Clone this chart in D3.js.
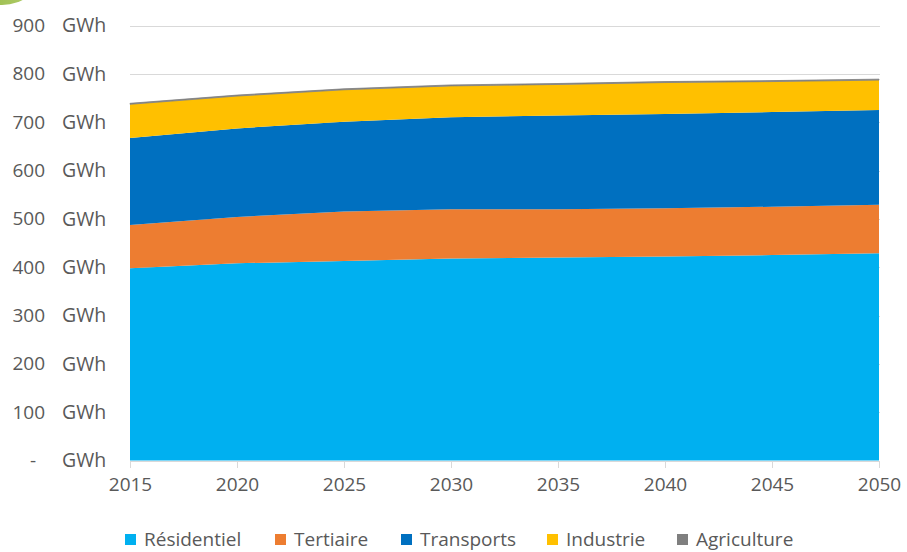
<!DOCTYPE html>
<html>
<head>
<meta charset="utf-8">
<script src="https://cdn.jsdelivr.net/npm/d3@7"></script>
<style>
  html, body { margin: 0; padding: 0; background: #fff; }
  svg { display: block; font-family: "Open Sans", "DejaVu Sans", sans-serif; }
</style>
</head>
<body>
<svg id="chart" width="907" height="552"></svg>
<script>
// Consommation d'énergie par secteur, 2015-2050 (GWh)
const years = [2015, 2020, 2025, 2030, 2035, 2040, 2045, 2050];
const seriesNames = ["Résidentiel", "Tertiaire", "Transports", "Industrie", "Agriculture"];
const residentiel = [398, 408, 413, 418, 420, 422, 425, 429];
const tertiaire   = [89, 96, 102, 102, 100, 100, 100, 100];
const transports  = [180, 183, 186, 190, 194, 195, 196, 196];
const industrie   = [70, 67, 66, 65, 64, 65, 63, 62];
const agriculture = [2, 2, 2, 2, 2, 2, 2, 2];
const yTicks = [0, 100, 200, 300, 400, 500, 600, 700, 800, 900];
const xTicks = [2015, 2020, 2025, 2030, 2035, 2040, 2045, 2050];
const colors = ["#00b0f0", "#ed7d31", "#0070c0", "#ffc000", "#7f7f7f"];

const svg = d3.select("#chart");
const plot = { left: 130, right: 879, top: 25.5, bottom: 460.5 };
const textColor = "#595959";

// decorative green disc peeking in at the top-left corner
const defs = svg.append("defs");
const grad = defs.append("linearGradient").attr("id", "greenDisc")
  .attr("x1", "0").attr("y1", "0").attr("x2", "1").attr("y2", "0");
grad.append("stop").attr("offset", "0").attr("stop-color", "#8fb53e");
grad.append("stop").attr("offset", "1").attr("stop-color", "#b5cf6f");
svg.append("ellipse").attr("cx", 2).attr("cy", -30).attr("rx", 40).attr("ry", 35)
  .attr("fill", "url(#greenDisc)");

const x = d3.scaleLinear().domain([2015, 2050]).range([plot.left, plot.right]);
const y = d3.scaleLinear().domain([0, 900]).range([plot.bottom, plot.top]);

// gridlines
svg.append("g").selectAll("line").data(yTicks.filter(d => d > 0)).join("line")
  .attr("x1", plot.left).attr("x2", plot.right + 1)
  .attr("y1", d => Math.round(y(d)) + 0.5).attr("y2", d => Math.round(y(d)) + 0.5)
  .attr("stroke", "#d9d9d9").attr("stroke-width", 1);

// stacked areas
const rows = years.map((yr, i) => ({
  year: yr,
  "Résidentiel": residentiel[i],
  "Tertiaire": tertiaire[i],
  "Transports": transports[i],
  "Industrie": industrie[i],
  "Agriculture": agriculture[i]
}));
const layers = d3.stack().keys(seriesNames)(rows);
const area = d3.area()
  .x(d => x(d.data.year))
  .y0(d => y(d[0]))
  .y1(d => y(d[1]));

svg.append("g").selectAll("path").data(layers).join("path")
  .attr("d", area)
  .attr("fill", (d, i) => colors[i])
  .attr("stroke", (d, i) => i === 4 ? colors[i] : "none")
  .attr("stroke-width", (d, i) => i === 4 ? 0.8 : 0);

// x axis
const xAxis = d3.axisBottom(x).tickValues(xTicks).tickFormat(d3.format("d"))
  .tickSize(7).tickPadding(10);
const gx = svg.append("g").attr("transform", `translate(0,${plot.bottom + 0.5})`).call(xAxis);
gx.select(".domain").attr("stroke", "#d9d9d9").attr("d", `M${plot.left},0.5H${plot.right + 1}`);
gx.selectAll(".tick line").attr("stroke", "#d9d9d9");
gx.selectAll(".tick text").attr("fill", textColor).attr("font-size", "19px")
  .attr("font-family", "\"Open Sans\", sans-serif");

// y axis labels in accounting style: value right aligned, then unit
const gy = svg.append("g");
gy.selectAll("text.val").data(yTicks).join("text")
  .attr("class", "val")
  .attr("x", d => d === 0 ? 36 : 45)
  .attr("y", d => y(d))
  .attr("dy", "0.35em")
  .attr("text-anchor", "end")
  .attr("fill", textColor).attr("font-size", "19px")
  .text(d => d === 0 ? "-" : d3.format("d")(d));
gy.selectAll("text.unit").data(yTicks).join("text")
  .attr("class", "unit")
  .attr("x", 62)
  .attr("y", d => y(d))
  .attr("dy", "0.35em")
  .attr("fill", textColor).attr("font-size", "19.5px")
  .text("GWh");

// legend
const legendX = [125, 275, 401, 547, 677];
const lg = svg.append("g");
seriesNames.forEach((name, i) => {
  lg.append("rect").attr("x", legendX[i]).attr("y", 534).attr("width", 11).attr("height", 11)
    .attr("fill", colors[i]);
  lg.append("text").attr("x", legendX[i] + 19).attr("y", 539.5).attr("dy", "0.35em")
    .attr("fill", textColor).attr("font-size", "19px").text(name);
});
</script>
</body>
</html>
